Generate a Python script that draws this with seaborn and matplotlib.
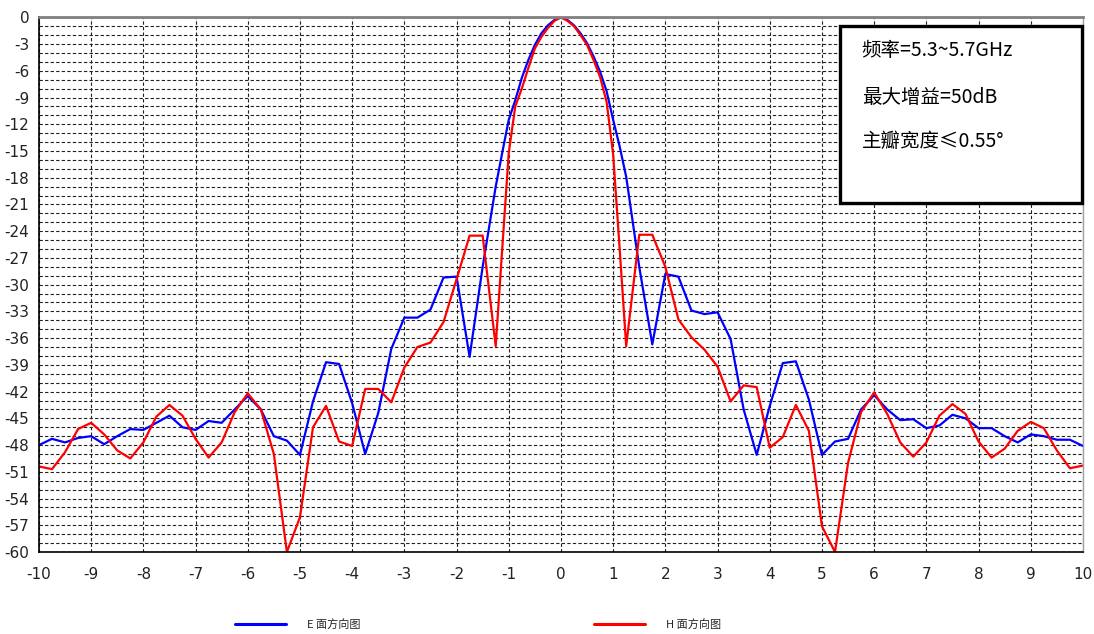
import numpy as np
import pandas as pd
import matplotlib
matplotlib.use("Agg")
import matplotlib.pyplot as plt
import seaborn as sns
from matplotlib.patches import Rectangle

# angle grid (deg): 0.25 steps in the side lobes, 0.125 steps across the main lobe
side_left = [i * 0.25 for i in range(-40, -5)]
main_lobe = [i * 0.125 for i in range(-10, 11)]
side_right = [i * 0.25 for i in range(6, 41)]
angles = side_left + main_lobe + side_right

# pattern values (dB)
e_plane = [-48.0, -47.3, -47.7, -47.2, -47.0, -47.9, -47.0, -46.2, -46.3, -45.5,
           -44.7, -46.0, -46.3, -45.3, -45.5, -44.0, -42.5, -44.0, -47.0, -47.5,
           -49.1, -43.1, -38.7, -38.9, -43.3, -49.0, -44.4, -37.2, -33.7, -33.7,
           -32.8, -29.2, -29.1, -38.1, -28.0,
           -19.0, -15.2, -11.5, -9.3, -6.8, -4.8, -3.1, -1.8, -0.9, -0.3,
           0.0,
           -0.3, -0.9, -1.8, -2.9, -4.4, -6.1, -8.3, -11.5, -14.5, -17.9,
           -28.0, -36.7, -28.8, -29.1, -32.9,
           -33.3, -33.1, -36.1, -44.0, -49.1, -43.6, -38.8, -38.6, -42.9, -49.1,
           -47.6, -47.3, -44.0, -42.4, -44.0, -45.2, -45.1, -46.1, -45.8, -44.6,
           -45.0, -46.1, -46.1, -47.0, -47.7, -46.8, -47.0, -47.4, -47.4, -48.1]

h_plane = [-50.4, -50.7, -48.8, -46.2, -45.5, -46.8, -48.6, -49.5, -47.7, -44.8,
           -43.5, -44.7, -47.3, -49.4, -47.7, -44.3, -42.2, -44.0, -49.0, -60.0,
           -56.1, -46.0, -43.6, -47.6, -48.1, -41.7, -41.7, -43.2, -39.3, -37.0,
           -36.5, -34.2, -29.4, -24.5, -24.5,
           -36.9, -26.0, -15.2, -10.0, -8.0, -5.7, -3.5, -2.2, -1.2, -0.4,
           0.0,
           -0.4, -1.0, -2.0, -3.1, -4.8, -6.7, -9.5, -15.4, -26.0, -36.9,
           -24.4, -24.4, -28.0, -33.9, -35.9,
           -37.3, -39.2, -43.1, -41.3, -41.5, -48.3, -47.1, -43.5, -46.4, -57.1,
           -60.0, -50.0, -44.3, -42.1, -44.5, -47.7, -49.3, -47.7, -44.7, -43.4,
           -44.5, -47.6, -49.4, -48.4, -46.4, -45.4, -46.1, -48.6, -50.6, -50.3]

series_names = ["E 面方向图", "H 面方向图"]
info_lines = ["频率=5.3~5.7GHz", "最大增益=50dB", "主瓣宽度≤0.55°"]

df = pd.DataFrame({
    "angle": angles * 2,
    "gain": e_plane + h_plane,
    "plane": [series_names[0]] * len(angles) + [series_names[1]] * len(angles),
})

sns.set_style("white")
plt.rcParams["font.family"] = ["DejaVu Sans", "Noto Sans CJK SC"]
plt.rcParams["axes.unicode_minus"] = False

fig = plt.figure(figsize=(10.94, 6.34), dpi=100)
ax = fig.add_axes([0.0356, 0.1293, 0.9543, 0.8434])

sns.lineplot(data=df, x="angle", y="gain", hue="plane", sort=False,
             palette={series_names[0]: "#0000ff", series_names[1]: "#ff0000"},
             linewidth=1.6, ax=ax, legend=True)

ax.set_xlim(-10, 10)
ax.set_ylim(-60, 0)
ax.set_xticks(range(-10, 11))
ax.set_yticks(range(-60, 1, 3))
ax.set_yticks(range(-60, 1), minor=True)
ax.set_xlabel("")
ax.set_ylabel("")

ax.xaxis.grid(True, which="major", linestyle=(0, (3, 2)), color="#222222", linewidth=0.8)
ax.yaxis.grid(True, which="both", linestyle=(0, (3, 2)), color="#222222", linewidth=0.8)
ax.set_axisbelow(True)

ax.tick_params(axis="both", which="major", direction="inout", length=7, width=1,
               labelsize=11, colors="black", labelcolor="#222222")
ax.tick_params(axis="x", pad=7)
ax.tick_params(axis="y", which="minor", direction="inout", length=4, width=0.8)

for side in ["left", "bottom"]:
    ax.spines[side].set_color("black")
    ax.spines[side].set_linewidth(1.2)
ax.spines["top"].set_color("#808080")
ax.spines["top"].set_linewidth(2)
ax.spines["right"].set_color("#a0a0a0")
ax.spines["right"].set_linewidth(1)

# info box
box = Rectangle((0.767, 0.652), 0.232, 0.331, transform=ax.transAxes,
                facecolor="white", edgecolor="black", linewidth=2.4,
                zorder=5, clip_on=False)
ax.add_patch(box)
for txt, yy in zip(info_lines, [0.937, 0.850, 0.768]):
    ax.text(0.788, yy, txt, transform=ax.transAxes, fontsize=14,
            family=["Noto Sans CJK SC", "DejaVu Sans"], va="center", ha="left",
            color="black", zorder=6)

handles, labels = ax.get_legend_handles_labels()
ax.get_legend().remove()
for h in handles:
    h.set_linewidth(2.2)
fig.legend(handles, labels, loc="center left", bbox_to_anchor=(0.2148, 0.0158),
           ncol=2, frameon=False, handlelength=4.6, handletextpad=1.9,
           columnspacing=21, borderpad=0, borderaxespad=0,
           prop={"family": ["Noto Sans CJK SC", "DejaVu Sans"], "size": 8})

fig.savefig("out.png", dpi=100)
